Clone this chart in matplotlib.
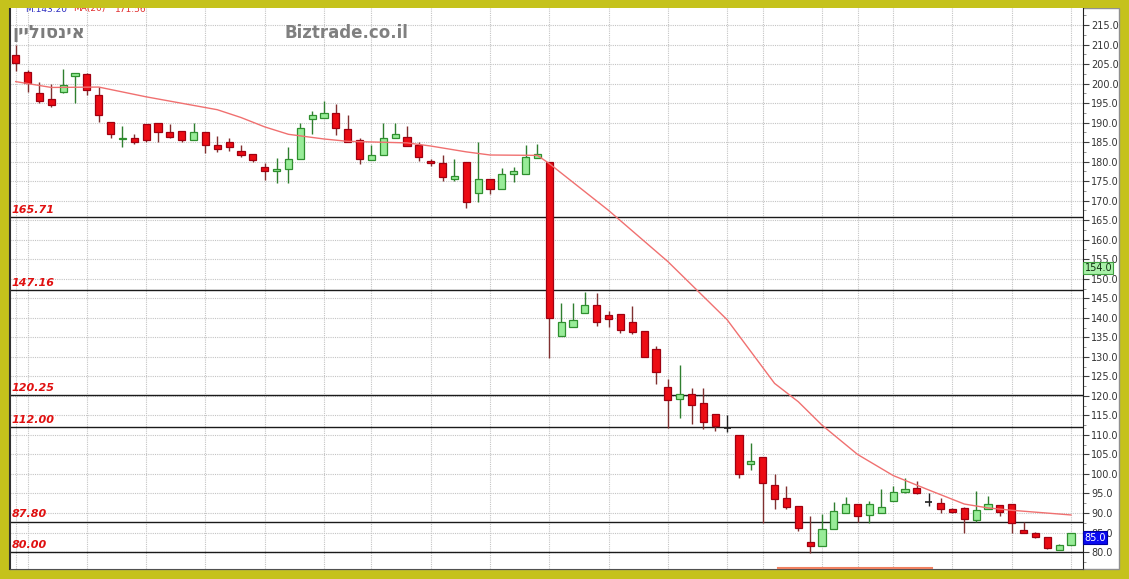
#!/usr/bin/env python3

import matplotlib
matplotlib.use("Agg")
import matplotlib.pyplot as plt
import matplotlib.transforms as mtransforms
from matplotlib.patches import Rectangle
from matplotlib.lines import Line2D
import numpy as np


# candles: open, high, low, close
opens = [207.3, 203.0, 197.7, 196.0, 197.9, 201.9, 202.5, 197.1, 190.1, 185.8,
         186.1, 189.6, 190.0, 187.7, 187.8, 185.5, 187.6, 184.3, 185.0, 182.6,
         182.0, 178.7, 177.5, 178.0, 180.6, 190.8, 191.2, 192.4, 188.3, 185.5,
         180.4, 181.7, 186.0, 186.2, 184.2, 180.2, 179.6, 175.6, 180.0, 171.9,
         175.6, 173.0, 176.8, 176.8, 181.0, 180.0, 135.4, 137.7, 141.2, 143.2,
         140.7, 141.0, 138.8, 136.5, 132.0, 122.4, 119.2, 120.4, 118.3, 115.4,
         111.7, 110.1, 102.6, 104.4, 97.3, 93.9, 91.9, 82.5, 81.5, 85.9,
         89.9, 92.3, 89.5, 90.1, 93.1, 95.5, 96.5, 92.7, 92.6, 90.9,
         91.4, 88.2, 91.0, 92.1, 92.3, 85.6, 85.0, 83.8, 80.6, 81.8]
highs = [209.9, 203.5, 200.3, 199.8, 203.7, 202.6, 202.6, 199.2, 190.1, 189.0,
         187.0, 189.6, 190.0, 189.6, 187.8, 190.0, 187.6, 186.5, 186.0, 184.3,
         182.0, 179.7, 180.9, 183.7, 190.0, 193.0, 195.6, 194.8, 191.9, 186.0,
         184.2, 189.8, 189.8, 189.0, 185.1, 180.6, 181.6, 180.8, 180.0, 185.1,
         175.6, 178.3, 178.6, 184.3, 184.5, 180.0, 143.9, 143.9, 146.5, 146.3,
         141.8, 141.0, 143.0, 136.5, 132.8, 124.2, 127.9, 121.9, 121.9, 115.4,
         115.1, 110.1, 107.9, 104.4, 99.9, 96.9, 91.9, 89.2, 89.7, 92.8,
         94.0, 92.3, 93.1, 96.1, 97.0, 98.9, 98.3, 95.0, 93.8, 91.2,
         91.6, 95.7, 94.4, 92.1, 92.3, 87.8, 85.2, 83.8, 82.0, 85.0]
lows = [203.3, 197.9, 194.9, 193.9, 197.7, 195.1, 197.0, 190.1, 186.0, 183.8,
        184.5, 185.1, 185.0, 186.0, 185.0, 185.5, 182.1, 182.4, 182.7, 181.1,
        179.9, 175.3, 174.6, 174.5, 180.6, 187.0, 191.2, 186.8, 185.1, 179.3,
        180.4, 181.7, 186.0, 183.9, 180.2, 179.0, 175.0, 175.0, 168.0, 169.7,
        171.7, 173.0, 174.9, 176.8, 181.0, 129.8, 135.4, 137.7, 141.2, 138.0,
        137.7, 136.0, 135.9, 130.0, 123.0, 111.7, 114.4, 112.7, 111.4, 111.1,
        110.8, 98.9, 101.0, 87.5, 91.0, 91.0, 85.4, 79.8, 81.5, 85.9,
        89.9, 87.8, 87.5, 90.1, 93.1, 95.0, 94.9, 91.8, 89.9, 90.1,
        85.0, 87.8, 91.0, 89.3, 84.8, 84.8, 83.5, 80.8, 80.6, 81.7]
closes = [205.3, 200.2, 195.6, 194.6, 199.5, 202.6, 198.4, 192.0, 187.0, 186.1,
          185.1, 185.5, 187.6, 186.2, 185.5, 187.6, 184.3, 183.2, 183.8, 181.6,
          180.5, 177.5, 178.1, 180.6, 188.5, 192.0, 192.4, 188.5, 185.1, 180.6,
          181.6, 186.0, 187.2, 183.9, 181.3, 179.6, 176.1, 176.2, 169.7, 175.6,
          172.9, 176.8, 177.7, 181.1, 181.9, 139.9, 138.8, 139.4, 143.3, 138.8,
          139.6, 136.9, 136.3, 130.0, 126.2, 119.0, 120.4, 117.7, 113.4, 112.4,
          111.7, 99.9, 103.3, 97.8, 93.5, 91.6, 86.1, 81.5, 85.8, 90.6,
          92.2, 89.2, 92.2, 91.6, 95.5, 96.1, 95.2, 92.7, 90.9, 90.3,
          88.5, 90.8, 92.2, 90.3, 87.4, 85.0, 83.8, 81.1, 81.8, 85.0]

# MA(20) line, read at its bends
ma_idx = [0, 3, 7, 11, 17, 19, 21, 23, 26, 28, 33, 35, 38, 40, 44, 45,
          50, 55, 60, 64, 66, 68, 70, 71, 74, 77, 80, 82, 84, 89]
ma_val = [200.5, 199.0, 199.1, 196.6, 193.3, 191.3, 188.9, 187.0, 185.8, 185.2,
          184.8, 184.0, 182.5, 181.7, 181.6, 179.5, 167.5, 154.4, 139.5, 123.2,
          118.5, 112.5, 107.5, 105.0, 99.6, 95.9, 92.3, 91.3, 90.7, 89.5]

levels = [165.71, 147.16, 120.25, 112.00, 87.80, 80.00]
grid_days = [0, 1, 6, 11, 16, 21, 26, 30, 35, 40, 45, 50, 55, 60, 63, 68, 71,
             74, 79, 84, 89]
yticks = np.arange(80, 216, 5)

title_he = "אינסוליין"
site = "Biztrade.co.il"

W, H = 1129, 579
yellow = "#c5c21c"


def fx(x):
    return x / W


def fy(y):
    return 1 - y / H


fig = plt.figure(figsize=(W / 100, H / 100), dpi=100, facecolor=yellow)

# white panel behind chart + price scale
fig.add_artist(Rectangle((fx(10), fy(569)), fx(1119) - fx(10), fy(8) - fy(569),
                         transform=fig.transFigure, fc="white", ec="#909090",
                         lw=1, zorder=0))

ax = fig.add_axes([fx(10), fy(569), fx(1083) - fx(10), fy(8) - fy(569)])
ax.set_facecolor("white")
ax.set_xlim(-0.48, 90.01)
ax.set_ylim(75.66, 219.35)

ax.spines["top"].set_visible(False)
ax.spines["left"].set_color("#303030")
ax.spines["bottom"].set_color("#505050")
ax.spines["right"].set_color("#202020")
ax.spines["left"].set_linewidth(1.5)

ax.set_xticks([])
ax.yaxis.tick_right()
ax.set_yticks(yticks)
ax.set_yticklabels([f"{v:.1f}" for v in yticks])
ax.set_yticks(np.arange(77.5, 219, 2.5), minor=True)
ax.tick_params(axis="y", which="major", length=4, width=0.8, color="#404040",
               labelsize=7, labelcolor="#333333", pad=2)
ax.tick_params(axis="y", which="minor", length=2, width=0.6, color="#808080")

# grid
for v in yticks:
    ax.axhline(v, color="#c4c4c4", lw=0.8, ls=(0, (1, 1)), zorder=0)
for d in grid_days:
    ax.axvline(d, color="#c4c4c4", lw=0.8, ls=(0, (1, 1)), zorder=0)

# support / resistance lines
blend = mtransforms.blended_transform_factory(ax.transAxes, ax.transData)
for lvl in levels:
    ax.axhline(lvl, color="#1a1a1a", lw=1.0, zorder=1)
    ax.annotate(f"{lvl:.2f}", xy=(0, lvl), xycoords=blend, xytext=(1.2, 3),
                textcoords="offset points", va="baseline", ha="left",
                color="#e01010", fontsize=8, style="italic", weight="bold")

# candles
x = np.arange(len(opens))
o = np.array(opens)
c = np.array(closes)
hi = np.array(highs)
lo = np.array(lows)
up = c > o
down = c < o
flat = c == o

ax.vlines(x[up], lo[up], hi[up], color="#2f7f2f", lw=1, zorder=2)
ax.vlines(x[down], lo[down], hi[down], color="#803030", lw=1, zorder=2)
ax.vlines(x[flat], lo[flat], hi[flat], color="#202020", lw=1, zorder=2)

bw = 0.6
ax.bar(x[up], c[up] - o[up], bottom=o[up], width=bw, color="#98ec98",
       edgecolor="#2f8f2f", lw=0.9, zorder=3)
ax.bar(x[down], o[down] - c[down], bottom=c[down], width=bw, color="#ec0c14",
       edgecolor="#a00010", lw=0.9, zorder=3)
ax.hlines(c[flat], x[flat] - bw / 2, x[flat] + bw / 2, color="#202020", lw=1.2,
          zorder=3)

# moving average
ax.plot(ma_idx, ma_val, color="#f07070", lw=1.0, zorder=4)

# last-value boxes on the price scale
ax.text(1.0015, 154.0, "154.0", transform=blend, va="top", ha="left",
        fontsize=7, color="#103010", clip_on=False, zorder=6,
        bbox=dict(boxstyle="square,pad=0.12", fc="#a8f0a8", ec="#40a040", lw=0.8))
ax.text(1.0015, closes[-1], f"{closes[-1]:.1f}", transform=blend, va="top",
        ha="left", fontsize=7, color="white", clip_on=False, zorder=6,
        bbox=dict(boxstyle="square,pad=0.12", fc="#0a0af0", ec="#0000a0", lw=0.8))

# header (top half hidden under the frame) and watermarks
fig.text(fx(25), fy(11.5), "M.143.20", color="#3030c0", fontsize=6.5,
         va="baseline", zorder=5)
fig.text(fx(73), fy(11.5), "MA(20)", color="#e03030", fontsize=6.5,
         va="baseline", zorder=5)
fig.text(fx(115), fy(11.5), "171.56", color="#e03030", fontsize=6.5,
         va="baseline", zorder=5)
fig.add_artist(Rectangle((0, fy(8)), 1, 1 - fy(8), transform=fig.transFigure,
                         fc=yellow, ec="none", zorder=10))

# matplotlib has no bidi, so reverse the Hebrew for right-to-left display
fig.text(fx(12), fy(33), title_he[::-1], color="#7c7c7c", fontsize=13,
         weight="bold", va="center", ha="left", zorder=5)
fig.text(fx(285), fy(33), site, color="#808080", fontsize=12, weight="bold",
         va="center", ha="left", zorder=5)

# scroll marker at the bottom edge
fig.add_artist(Line2D([fx(778), fx(932)], [fy(568), fy(568)], color="#f08060",
                      lw=1.5, zorder=6))

fig.savefig("out.png", dpi=100, facecolor=yellow)
